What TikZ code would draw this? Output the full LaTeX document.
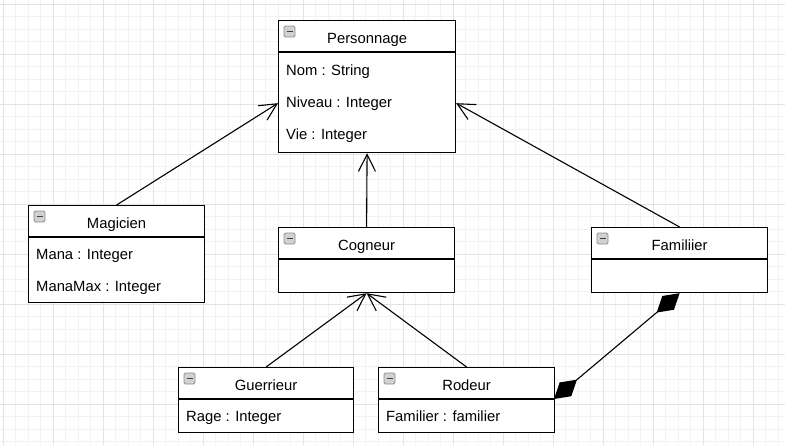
\documentclass[tikz,border=0pt]{standalone}
\usepackage{fontspec}
\setmainfont{Liberation Sans}
\usetikzlibrary{arrows.meta,calc}

\tikzset{
  classbox/.style={draw, line width=1.2pt, fill=white, anchor=north west, inner sep=0pt},
  titletext/.style={anchor=base, inner sep=0pt, font=\fontsize{14.8}{17}\selectfont},
  attrtext/.style={anchor=base west, inner sep=0pt, font=\fontsize{14.8}{17}\selectfont},
  inherit/.style={line width=1.1pt, -{Straight Barb[length=17pt, width=17pt]}},
  compo/.style={line width=1.1pt, {Diamond[length=30pt, width=18pt]}-{Diamond[length=30pt, width=18pt]}},
  gridminor/.style={draw=black!5, line width=0.9pt},
  gridmajor/.style={draw=black!11, line width=0.9pt},
  iconbox/.style={draw=black!45, fill=black!18, rounded corners=1.5pt, line width=0.8pt},
  iconbar/.style={draw=black!75, line width=1.3pt},
}

\begin{document}
\begin{tikzpicture}[x=1pt, y=-1pt]
    \useasboundingbox (0,0) rectangle (785,445);
    % background grid
    \foreach \i in {0,...,62}{
        \draw[gridminor] ({3.3+12.5*\i},0) -- ++(0,445);
    }
    \foreach \j in {0,...,35}{
        \draw[gridminor] (0,{4.3+12.5*\j}) -- ++(785,0);
    }
    \foreach \i in {0,...,15}{
        \draw[gridmajor] ({3.3+50*\i},0) -- ++(0,445);
    }
    \foreach \j in {0,...,8}{
        \draw[gridmajor] (0,{4.3+50*\j}) -- ++(785,0);
    }
    % classes
    \foreach \cls/\x/\y/\w/\h/\lbl in {perso/278/20/177/132/Personnage, magi/28/205/176/97/Magicien, cogn/278/227/176/65/Cogneur, famil/591/227/176/65/Familiier, guerr/178/367/175/65/Guerrieur, rodeur/378/367/176/65/Rodeur}{
        \node[classbox, minimum width=\w pt, minimum height=\h pt] (\cls) at (\x,\y) {};
        \draw[line width=1.4pt] (\cls.north west) ++(0,32) coordinate (\cls-l) -- ++(\w,0) coordinate (\cls-r);
        \node[titletext] (\cls-t) at ($(\cls.north)+(0,23)$) {\lbl};
        \draw[iconbox] (\cls.north west) ++(6,6) rectangle ++(11,11);
        \draw[iconbar] (\cls.north west) ++(8.5,11.5) -- ++(6,0);
    }
    \node[attrtext] (persoNom) at (286,75) {Nom : String};
    \node[attrtext] (persoNiveau) at (286,107) {Niveau : Integer};
    \node[attrtext] (persoVie) at (286,139) {Vie : Integer};
    \node[attrtext] (magiMana) at (36,259) {Mana : Integer};
    \node[attrtext] (magiMax) at (36,291) {ManaMax : Integer};
    \node[attrtext] (guerrRage) at (186,421) {Rage : Integer};
    \node[attrtext] (rodeurFam) at (386,421) {Familier : familier};
    % relations
    \draw[inherit] (magi.north) -- (perso.west |- persoNiveau);
    \draw[inherit] (famil.north) -- (perso.east |- persoNiveau);
    \draw[inherit] (cogn.north) -- (perso.south);
    \draw[inherit] (guerr.north) -- (cogn.south);
    \draw[inherit] (rodeur.north) -- (cogn.south);
    \draw[compo] (rodeur-r) -- (famil.south);
\end{tikzpicture}
\end{document}
